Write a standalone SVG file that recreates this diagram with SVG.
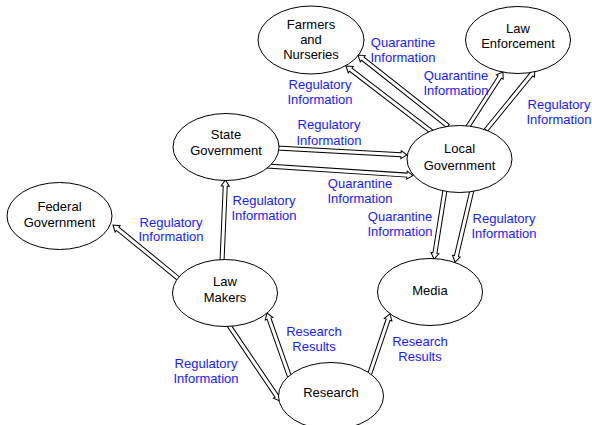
<svg xmlns="http://www.w3.org/2000/svg" width="592" height="425" viewBox="0 0 592 425">
<style>
.node ellipse{fill:#fff;stroke:#000;stroke-width:1}
.node text{font-family:"Liberation Sans",Arial,sans-serif;font-size:13px;fill:#000;text-anchor:middle}
.conn path{fill:#fff;stroke:#000;stroke-width:1;stroke-linejoin:miter}
.lbl{font-family:"Liberation Sans",Arial,sans-serif;font-size:13px;fill:#1a1aff;text-anchor:middle}
</style>
<rect width="592" height="425" fill="#fff"/>
<g id="connectors" class="conn">
<path transform="translate(432,132) rotate(-142.5)" d="M0,-2H102.4V-4L108.4,0L102.4,4V2H0Z"/>
<path transform="translate(448,126) rotate(-141.73)" d="M0,-2H108.6V-4L114.6,0L108.6,4V2H0Z"/>
<path transform="translate(467,128) rotate(-57.26)" d="M0,-2H60.6V-4L66.6,0L60.6,4V2H0Z"/>
<path transform="translate(486,130) rotate(-50.77)" d="M0,-2H71.5V-4L77.5,0L71.5,4V2H0Z"/>
<path transform="translate(277,148) rotate(3.08)" d="M0,-2H124.2V-4L130.2,0L124.2,4V2H0Z"/>
<path transform="translate(267,166) rotate(3.72)" d="M0,-2H140.3V-4L146.3,0L140.3,4V2H0Z"/>
<path transform="translate(222,262) rotate(-87.56)" d="M0,-2H76.1V-4L82.1,0L76.1,4V2H0Z"/>
<path transform="translate(179,279) rotate(-140.71)" d="M0,-2H79.3V-4L85.3,0L79.3,4V2H0Z"/>
<path transform="translate(445,190) rotate(99.06)" d="M0,-2H63.9V-4L69.9,0L63.9,4V2H0Z"/>
<path transform="translate(472,190) rotate(103.28)" d="M0,-2H68V-4L74,0L68,4V2H0Z"/>
<path transform="translate(228,324) rotate(55.97)" d="M0,-2H86.9V-4L92.9,0L86.9,4V2H0Z"/>
<path transform="translate(290,378) rotate(-109.49)" d="M0,-2H62.9V-4L68.9,0L62.9,4V2H0Z"/>
<path transform="translate(369,376) rotate(-71.29)" d="M0,-2H59.5V-4L65.5,0L59.5,4V2H0Z"/>
</g>
<g id="labels">
<text class="lbl" x="403" y="47">Quarantine</text><text class="lbl" x="403" y="62">Information</text>
<text class="lbl" x="320" y="89">Regulatory</text><text class="lbl" x="320" y="104">Information</text>
<text class="lbl" x="456" y="80">Quarantine</text><text class="lbl" x="456" y="95">Information</text>
<text class="lbl" x="559" y="109">Regulatory</text><text class="lbl" x="559" y="124">Information</text>
<text class="lbl" x="329" y="129">Regulatory</text><text class="lbl" x="329" y="145">Information</text>
<text class="lbl" x="360" y="188">Quarantine</text><text class="lbl" x="360" y="203">Information</text>
<text class="lbl" x="264" y="205">Regulatory</text><text class="lbl" x="264" y="220">Information</text>
<text class="lbl" x="171" y="227">Regulatory</text><text class="lbl" x="171" y="241">Information</text>
<text class="lbl" x="400" y="221">Quarantine</text><text class="lbl" x="400" y="236">Information</text>
<text class="lbl" x="504" y="223">Regulatory</text><text class="lbl" x="504" y="238">Information</text>
<text class="lbl" x="314" y="336">Research</text><text class="lbl" x="314" y="351">Results</text>
<text class="lbl" x="420" y="346">Research</text><text class="lbl" x="420" y="361">Results</text>
<text class="lbl" x="206" y="368">Regulatory</text><text class="lbl" x="206" y="383">Information</text>
</g>
<g id="farmers" class="node"><ellipse cx="311" cy="40" rx="53" ry="34"/><text x="311" y="29">Farmers</text><text x="311" y="44">and</text><text x="311" y="59">Nurseries</text></g>
<g id="law-enforcement" class="node"><ellipse cx="518" cy="40" rx="52.5" ry="33.5"/><text x="518" y="33">Law</text><text x="518" y="48">Enforcement</text></g>
<g id="state-government" class="node"><ellipse cx="226" cy="147" rx="53" ry="33.5"/><text x="226" y="139">State</text><text x="226" y="155">Government</text></g>
<g id="local-government" class="node"><ellipse cx="459.5" cy="159" rx="52.5" ry="33.5"/><text x="459.5" y="153">Local</text><text x="459.5" y="170">Government</text></g>
<g id="federal-government" class="node"><ellipse cx="59.5" cy="216" rx="52.5" ry="33.5"/><text x="59.5" y="211">Federal</text><text x="59.5" y="227">Government</text></g>
<g id="law-makers" class="node"><ellipse cx="225" cy="293" rx="52.5" ry="33.5"/><text x="225" y="286">Law</text><text x="225" y="302">Makers</text></g>
<g id="media" class="node"><ellipse cx="430" cy="292" rx="52.5" ry="33.5"/><text x="430" y="295">Media</text></g>
<g id="research" class="node"><ellipse cx="331" cy="396" rx="52.5" ry="33.5"/><text x="331" y="397">Research</text></g>
</svg>
